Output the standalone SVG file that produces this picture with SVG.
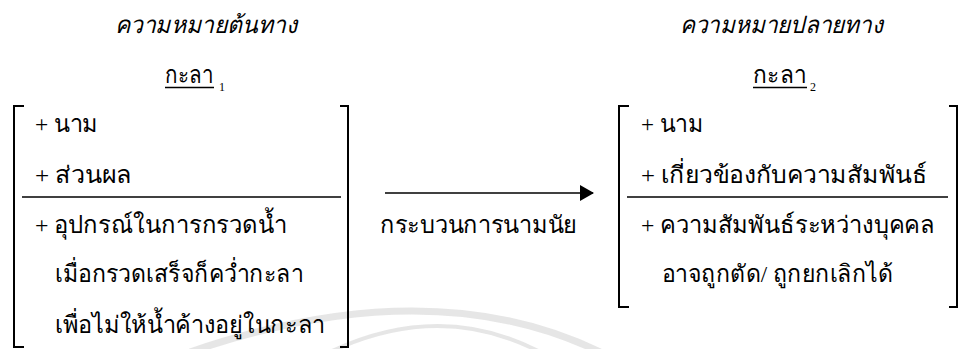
<svg xmlns="http://www.w3.org/2000/svg" width="960" height="349" viewBox="0 0 960 349">
<defs>
<style>
.t{font-family:"Liberation Serif","Noto Sans",serif;font-size:24px;fill:#000}
.ti{font-style:italic}
.sub{font-family:"Liberation Serif",serif;font-size:12px}
.br{fill:none;stroke:#000;stroke-width:2}
.ln{stroke:#000;stroke-width:1.6}
.wm{fill:none;stroke:#dcdcdc;stroke-opacity:0.7}
</style>
<marker id="ah" viewBox="0 0 14 16" refX="13" refY="8" markerWidth="14" markerHeight="16" markerUnits="userSpaceOnUse" orient="auto">
<path d="M0,0 L14,8 L0,16 Z" fill="#000"/>
</marker>
</defs>
<g id="watermark">
<path class="wm" stroke-width="7" d="M190,352 Q430,270 600,352"/>
<path class="wm" stroke-width="4" d="M330,352 Q440,300 540,352"/>
</g>
<g id="source">
<text class="t ti" x="115" y="33" textLength="182" lengthAdjust="spacingAndGlyphs">ความหมายต้นทาง</text>
<text class="t" x="165" y="83"><tspan textLength="48" lengthAdjust="spacingAndGlyphs">กะลา</tspan><tspan class="sub" x="219" y="91">1</tspan></text>
<line class="ln" x1="165" y1="87.5" x2="214" y2="87.5" stroke-width="1.2"/>
<path class="br" d="M24,106 H14 V347 H24"/>
<path class="br" d="M340,106 H348 V347 H340"/>
<line class="ln" x1="22" y1="197" x2="341" y2="197"/>
<text class="t" x="35" y="132" textLength="63" lengthAdjust="spacingAndGlyphs">+ นาม</text>
<text class="t" x="35" y="183" textLength="97" lengthAdjust="spacingAndGlyphs">+ ส่วนผล</text>
<text class="t" x="35" y="233" textLength="252" lengthAdjust="spacingAndGlyphs">+ อุปกรณ์ในการกรวดน้ำ</text>
<text class="t" x="55" y="282" textLength="248" lengthAdjust="spacingAndGlyphs">เมื่อกรวดเสร็จก็คว่ำกะลา</text>
<text class="t" x="55" y="333" textLength="270" lengthAdjust="spacingAndGlyphs">เพื่อไม่ให้น้ำค้างอยู่ในกะลา</text>
</g>
<g id="connectors">
<line class="ln" x1="385" y1="193" x2="593" y2="193" marker-end="url(#ah)"/>
<text class="t" x="380" y="233" textLength="197" lengthAdjust="spacingAndGlyphs">กระบวนการนามนัย</text>
</g>
<g id="target">
<text class="t ti" x="680" y="33" textLength="203" lengthAdjust="spacingAndGlyphs">ความหมายปลายทาง</text>
<text class="t" x="753" y="83"><tspan textLength="53" lengthAdjust="spacingAndGlyphs">กะลา</tspan><tspan class="sub" x="810" y="91">2</tspan></text>
<line class="ln" x1="753" y1="87.5" x2="807" y2="87.5" stroke-width="1.2"/>
<path class="br" d="M629,106 H619 V307 H629"/>
<path class="br" d="M949,106 H957 V307 H949"/>
<line class="ln" x1="627" y1="197" x2="948" y2="197"/>
<text class="t" x="641" y="132" textLength="62" lengthAdjust="spacingAndGlyphs">+ นาม</text>
<text class="t" x="641" y="183" textLength="286" lengthAdjust="spacingAndGlyphs">+ เกี่ยวข้องกับความสัมพันธ์</text>
<text class="t" x="641" y="233" textLength="294" lengthAdjust="spacingAndGlyphs">+ ความสัมพันธ์ระหว่างบุคคล</text>
<text class="t" x="662" y="282" textLength="231" lengthAdjust="spacingAndGlyphs">อาจถูกตัด/ ถูกยกเลิกได้</text>
</g>
</svg>
